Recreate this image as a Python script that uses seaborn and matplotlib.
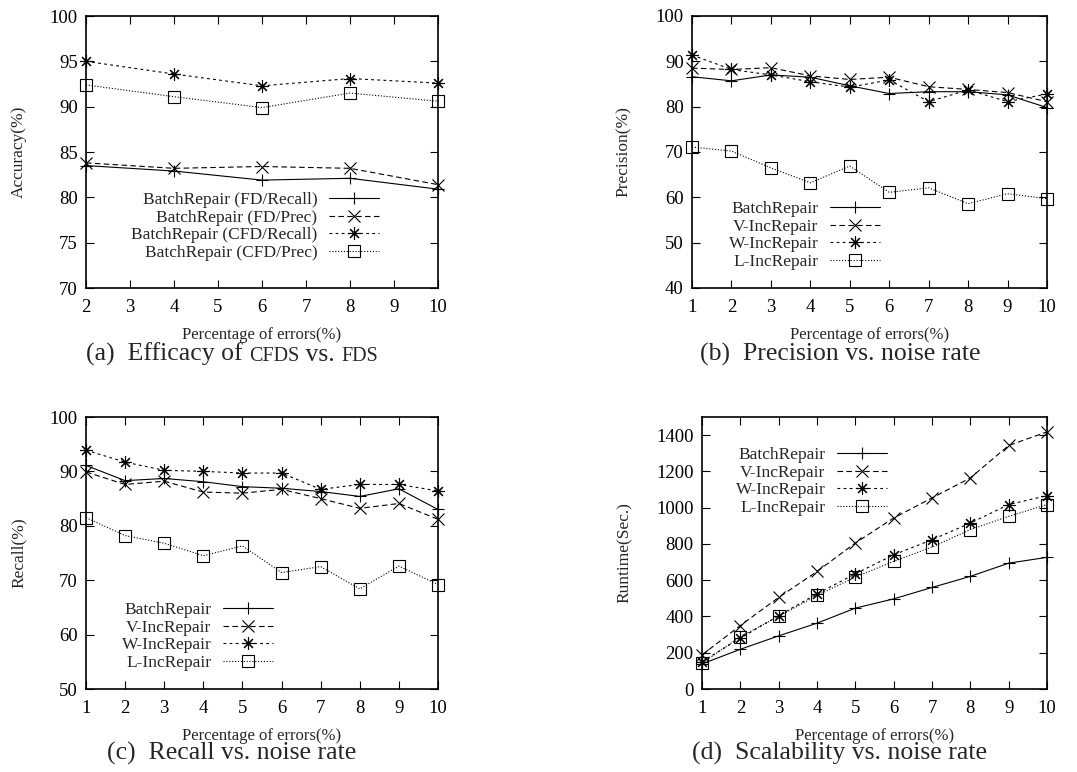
import numpy as np
import pandas as pd
import seaborn as sns
import matplotlib.pyplot as plt

# Data
x_a = [2, 4, 6, 8, 10]
fd_recall = [83.5, 82.9, 81.9, 82.1, 80.9]
fd_prec = [83.8, 83.2, 83.4, 83.2, 81.4]
cfd_recall = [95.0, 93.6, 92.3, 93.1, 92.6]
cfd_prec = [92.4, 91.1, 89.9, 91.5, 90.6]

x_noise = [1, 2, 3, 4, 5, 6, 7, 8, 9, 10]
prec_batch = [86.6, 85.7, 87.0, 86.5, 84.6, 82.9, 83.3, 83.3, 82.6, 79.8]
prec_v = [88.5, 88.2, 88.6, 86.8, 86.0, 86.5, 84.4, 83.8, 83.1, 81.1]
prec_w = [91.4, 88.2, 87.0, 85.5, 84.3, 85.9, 81.1, 83.7, 81.1, 82.8]
prec_l = [71.1, 70.2, 66.5, 63.2, 66.9, 61.1, 62.1, 58.6, 60.8, 59.7]

rec_batch = [91.1, 88.3, 88.7, 88.1, 87.2, 86.9, 86.3, 85.4, 86.8, 83.0]
rec_v = [89.9, 87.6, 88.2, 86.2, 86.0, 86.7, 85.0, 83.2, 84.1, 81.2]
rec_w = [93.9, 91.7, 90.2, 90.0, 89.7, 89.7, 86.7, 87.6, 87.6, 86.4]
rec_l = [81.5, 78.2, 76.8, 74.5, 76.3, 71.4, 72.5, 68.4, 72.6, 69.2]

rt_batch = [138, 219, 293, 363, 446, 497, 560, 621, 694, 726]
rt_v = [188, 350, 505, 648, 805, 943, 1054, 1164, 1343, 1418]
rt_w = [151, 280, 405, 525, 635, 740, 823, 915, 1017, 1066]
rt_l = [142, 289, 400, 516, 617, 704, 783, 879, 952, 1017]

labels_a = ["BatchRepair (FD/Recall)", "BatchRepair (FD/Prec)",
            "BatchRepair (CFD/Recall)", "BatchRepair (CFD/Prec)"]
labels_inc = ["BatchRepair", "V-IncRepair", "W-IncRepair", "L-IncRepair"]

# gnuplot-like point/line types
STYLES = [
    dict(marker="+", linestyle="-", ms=9),
    dict(marker="x", linestyle=(0, (5, 3)), ms=8),
    dict(marker=(8, 2, 0), linestyle=(0, (2.5, 3)), ms=9),
    dict(marker="s", linestyle=(0, (1, 1.6)), ms=8, mfc="none"),
]

sns.set_style("ticks")
plt.rcParams["font.family"] = ["Liberation Serif", "DejaVu Serif"]

fig = plt.figure(figsize=(10.77, 7.72), dpi=100)
W, H = 1077, 772


def make_axes(left, right, top, bottom):
    return fig.add_axes([left / W, (H - bottom) / H, (right - left) / W, (bottom - top) / H])


def draw_panel(ax, x, series, labels, ylim, yticks, xticks, ylabel, leg_anchor, ypad):
    for ys, lab, st in zip(series, labels, STYLES):
        sns.lineplot(x=x, y=ys, ax=ax, color="black", lw=0.8, mew=0.8,
                     mec="black", label=lab, clip_on=False, zorder=3, **st)
    ax.set_ylim(*ylim)
    ax.set_xlim(xticks[0], xticks[-1])
    ax.set_yticks(yticks)
    ax.set_xticks(xticks)
    ax.tick_params(direction="in", length=6, width=0.8, top=True, right=True,
                   labelsize=13.5, colors="black")
    ax.tick_params(axis="x", pad=8)
    ax.tick_params(axis="y", pad=6)
    for sp in ax.spines.values():
        sp.set_linewidth(1.2)
        sp.set_color("black")
        sp.set_zorder(4)
    ax.set_ylabel(ylabel, fontsize=12.5, labelpad=ypad)
    ax.set_xlabel("Percentage of errors(%)", fontsize=12, labelpad=8)
    ax.legend(loc="upper right", bbox_to_anchor=leg_anchor, frameon=False,
              markerfirst=False, handlelength=2.9, handletextpad=0.65,
              labelspacing=0.08, borderpad=0, borderaxespad=0, fontsize=12.5,
              numpoints=1)


ax_a = make_axes(86, 438, 16, 288)
draw_panel(ax_a, x_a, [fd_recall, fd_prec, cfd_recall, cfd_prec], labels_a,
           (70, 100), np.arange(70, 101, 5), list(range(2, 11)), "Accuracy(%)",
           (0.832, 0.352), 16)

ax_b = make_axes(692, 1047, 16, 288)
draw_panel(ax_b, x_noise, [prec_batch, prec_v, prec_w, prec_l], labels_inc,
           (40, 100), np.arange(40, 101, 10), x_noise, "Precision(%)",
           (0.530, 0.319), 17)

ax_c = make_axes(86, 438, 417, 689)
draw_panel(ax_c, x_noise, [rec_batch, rec_v, rec_w, rec_l], labels_inc,
           (50, 100), np.arange(50, 101, 10), x_noise, "Recall(%)",
           (0.531, 0.319), 16)

ax_d = make_axes(702, 1047, 417, 689)
draw_panel(ax_d, x_noise, [rt_batch, rt_v, rt_w, rt_l], labels_inc,
           (0, 1500), np.arange(0, 1401, 200), x_noise, "Runtime(Sec.)",
           (0.536, 0.889), 17)

# captions, with small caps pieces for CFDS / FDS
fig.canvas.draw()
renderer = fig.canvas.get_renderer()


def caption(cx, baseline_y, pieces):
    texts = []
    for s, size in pieces:
        t = fig.text(0, 0, s, fontsize=size, ha="left", va="baseline")
        texts.append(t)
    widths = [t.get_window_extent(renderer).width for t in texts]
    x = cx - sum(widths) / 2
    for t, w in zip(texts, widths):
        t.set_position((x / W, (H - baseline_y) / H))
        x += w


big, small = 18.5, 14.5
caption(232, 361, [("(a)  Efficacy of ", big), ("CFDS", small), (" vs. ", big), ("FDS", small)])
caption(840, 361, [("(b)  Precision vs. noise rate", big)])
caption(232, 760, [("(c)  Recall vs. noise rate", big)])
caption(839, 760, [("(d)  Scalability vs. noise rate", big)])

fig.savefig("out.png", dpi=100)
